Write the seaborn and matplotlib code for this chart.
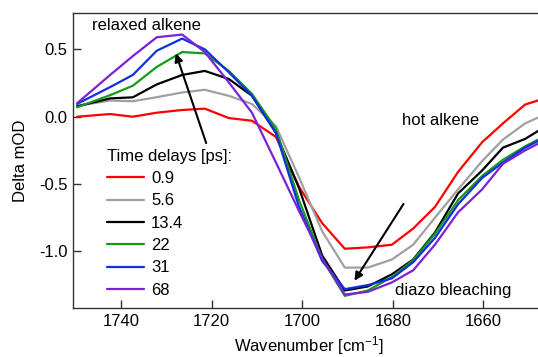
import numpy as np
import pandas as pd
import matplotlib
matplotlib.use("Agg")
import matplotlib.pyplot as plt
import seaborn as sns

# wavenumbers [cm-1]
wavenumber = [1749.7, 1742.4, 1737.4, 1732.1, 1726.5, 1721.5, 1716.2, 1711.1, 1705.8,
              1700.7, 1695.6, 1690.6, 1685.5, 1680.2, 1675.5, 1670.7, 1665.6, 1660.3,
              1655.7, 1650.8, 1646.2]

delays = ["0.9", "5.6", "13.4", "22", "31", "68"]

od_0_9 = [0.00, 0.02, 0.00, 0.03, 0.05, 0.06, -0.01, -0.03, -0.15, -0.52, -0.79, -0.98,
          -0.97, -0.95, -0.83, -0.67, -0.41, -0.19, -0.05, 0.09, 0.14]
od_5_6 = [0.08, 0.12, 0.115, 0.145, 0.18, 0.20, 0.155, 0.095, -0.07, -0.45, -0.85, -1.12,
          -1.12, -1.06, -0.95, -0.75, -0.54, -0.33, -0.17, -0.05, 0.02]
od_13_4 = [0.077, 0.136, 0.144, 0.24, 0.31, 0.34, 0.28, 0.156, -0.12, -0.53, -1.03, -1.29,
           -1.26, -1.17, -1.06, -0.86, -0.57, -0.40, -0.23, -0.165, -0.07]
od_22 = [0.07, 0.16, 0.23, 0.37, 0.48, 0.47, 0.34, 0.17, -0.09, -0.62, -1.055, -1.33,
         -1.29, -1.19, -1.065, -0.87, -0.62, -0.44, -0.32, -0.22, -0.14]
od_31 = [0.095, 0.22, 0.31, 0.49, 0.58, 0.50, 0.33, 0.156, -0.12, -0.67, -1.07, -1.28,
         -1.25, -1.20, -1.08, -0.90, -0.65, -0.455, -0.34, -0.23, -0.15]
od_68 = [0.10, 0.31, 0.45, 0.59, 0.61, 0.48, 0.255, 0.03, -0.34, -0.70, -1.05, -1.32,
         -1.30, -1.23, -1.14, -0.95, -0.71, -0.54, -0.35, -0.25, -0.17]

colors = ["#ff0000", "#a0a0a0", "#000000", "#169b16", "#1030e0", "#7b22d8"]

series = [od_0_9, od_5_6, od_13_4, od_22, od_31, od_68]
df = pd.concat([pd.DataFrame({"wavenumber": wavenumber, "od": s, "delay": d})
                for d, s in zip(delays, series)], ignore_index=True)

sns.set_style("ticks")
plt.rcParams["font.family"] = ["Liberation Sans", "DejaVu Sans"]
plt.rcParams["mathtext.default"] = "regular"
plt.rcParams["axes.unicode_minus"] = False
plt.rcParams["text.color"] = "black"
plt.rcParams["axes.labelcolor"] = "black"
plt.rcParams["xtick.labelcolor"] = "black"
plt.rcParams["ytick.labelcolor"] = "black"

fig = plt.figure(figsize=(5.38, 3.57), dpi=100)
ax = fig.add_axes([73 / 538, 49 / 357, 472 / 538, 295 / 357])

sns.lineplot(data=df, x="wavenumber", y="od", hue="delay", hue_order=delays,
             palette=colors, sort=False, linewidth=1.6, ax=ax)

ax.set_xlim(1750.6, 1646.4)
ax.set_ylim(-1.42, 0.77)
ax.set_xticks([1740, 1720, 1700, 1680, 1660])
ax.set_yticks([0.5, 0.0, -0.5, -1.0])
ax.set_yticklabels(["0.5", "0.0", "-0.5", "-1.0"])
ax.tick_params(direction="in", length=6, width=1, labelsize=12, pad=4, color="#333333")
for s in ax.spines.values():
    s.set_linewidth(1.0)
    s.set_color("#333333")

ax.set_xlabel("Wavenumber [cm$^{-1}$]", fontsize=12, labelpad=4)
ax.set_ylabel("Delta mOD", fontsize=12, labelpad=8)

ax.annotate("", xy=(1728.1, 0.49), xytext=(1721.0, -0.215),
            arrowprops=dict(arrowstyle="-|>", color="black", lw=1.5, mutation_scale=12))
ax.annotate("", xy=(1688.8, -1.235), xytext=(1677.3, -0.63),
            arrowprops=dict(arrowstyle="-|>", color="black", lw=1.5, mutation_scale=12))

ax.text(1746.5, 0.68, "relaxed alkene", fontsize=12, va="center", ha="left")
ax.text(1678.0, -0.03, "hot alkene", fontsize=12, va="center", ha="left")
ax.text(1679.5, -1.29, "diazo bleaching", fontsize=12, va="center", ha="left")

leg = ax.legend(title="Time delays [ps]:", loc="upper left", bbox_to_anchor=(0.072, 0.54),
                frameon=False, fontsize=12, title_fontsize=12, handlelength=2.2,
                handletextpad=0.45, labelspacing=0.44, borderpad=0, borderaxespad=0,
                alignment="left")

fig.savefig("out.png", dpi=100)
